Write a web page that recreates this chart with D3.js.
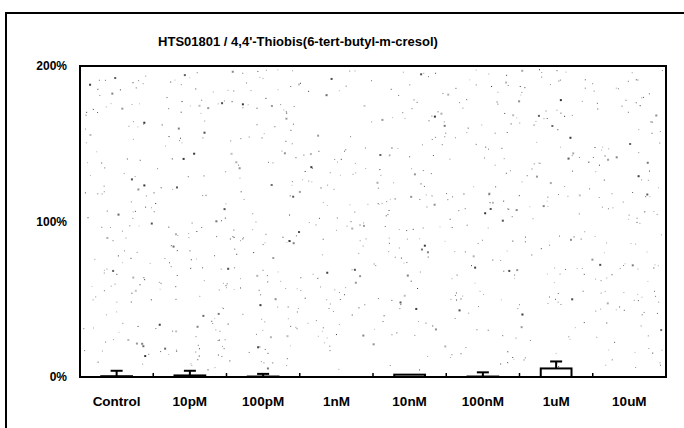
<!DOCTYPE html>
<meta charset="utf-8">
<style>
body { margin: 0; background: #fff; }
text { font-family: "Liberation Sans", Arial, sans-serif; fill: #000; }
</style>
<svg></svg>
<script src="https://d3js.org/d3.v7.min.js"></script>
<script>
var width = 684,
    height = 428;

var title = "HTS01801 / 4,4'-Thiobis(6-tert-butyl-m-cresol)";
var doses = ["Control", "10pM", "100pM", "1nM", "10nM", "100nM", "1uM", "10uM"];
var means = [0.5, 1, 0.3, 0, 1.5, 0.3, 5.5, 0];
var errors = [3.5, 3, 1.7, 0, 0, 2.7, 4.5, 0];
var yTicks = [0, 100, 200];

var margin = {top: 66, right: 18, bottom: 51, left: 80};

var svg = d3.select("svg")
    .attr("width", width)
    .attr("height", height);

var x = d3.scaleBand()
    .domain(doses)
    .range([margin.left, width - margin.right]);

var y = d3.scaleLinear()
    .domain([0, 200])
    .range([height - margin.bottom, margin.top]);

// outer frame (right and bottom run off the page)
svg.append("path")
    .attr("d", "M6," + (height + 2) + "V13H" + (width + 2))
    .attr("fill", "none")
    .attr("stroke", "#000")
    .attr("stroke-width", 2);

svg.append("text")
    .attr("x", 298)
    .attr("y", 46)
    .attr("text-anchor", "middle")
    .style("font-size", "13px")
    .style("font-weight", "bold")
    .text(title);

// speckled fill of the plot area, just texture
var rnd = d3.randomLcg(0.42);
var speck = svg.append("g").attr("fill", "#333");
for (var i = 0; i < 900; i++) {
  var s = rnd() < 0.15 ? 2 : 1;
  speck.append("rect")
      .attr("x", margin.left + 3 + rnd() * (width - margin.right - margin.left - 6))
      .attr("y", margin.top + 3 + rnd() * (height - margin.bottom - margin.top - 10))
      .attr("width", s)
      .attr("height", s)
      .attr("opacity", 0.3 + rnd() * 0.7);
}

// y labels
svg.append("g")
  .selectAll("text")
  .data(yTicks)
  .join("text")
    .attr("x", margin.left - 13)
    .attr("y", function(d) { return y(d) + 4; })
    .attr("text-anchor", "end")
    .style("font-size", "12px")
    .style("font-weight", "bold")
    .text(function(d) { return d + "%"; });

// x labels
svg.append("g")
  .selectAll("text")
  .data(doses)
  .join("text")
    .attr("x", function(d) { return x(d) + x.bandwidth() / 2; })
    .attr("y", 406)
    .attr("text-anchor", "middle")
    .style("font-size", "13.5px")
    .style("font-weight", "bold")
    .text(function(d) { return d; });

// small ticks between categories
svg.append("g")
  .selectAll("line")
  .data(doses.slice(1))
  .join("line")
    .attr("x1", function(d) { return x(d); })
    .attr("x2", function(d) { return x(d); })
    .attr("y1", y(0))
    .attr("y2", y(0) - 4)
    .attr("stroke", "#000")
    .attr("stroke-width", 1.5);

var bw = x.bandwidth() * 0.42;
var rows = doses.map(function(d, i) { return {dose: d, m: means[i], e: errors[i]}; });

var bars = svg.append("g");

bars.selectAll("line.err")
  .data(rows.filter(function(d) { return d.e > 0; }))
  .join("line")
    .attr("class", "err")
    .attr("x1", function(d) { return x(d.dose) + x.bandwidth() / 2; })
    .attr("x2", function(d) { return x(d.dose) + x.bandwidth() / 2; })
    .attr("y1", function(d) { return y(d.m); })
    .attr("y2", function(d) { return y(d.m + d.e); })
    .attr("stroke", "#000")
    .attr("stroke-width", 2);

bars.selectAll("line.cap")
  .data(rows.filter(function(d) { return d.e > 0; }))
  .join("line")
    .attr("class", "cap")
    .attr("x1", function(d) { return x(d.dose) + x.bandwidth() / 2 - 6; })
    .attr("x2", function(d) { return x(d.dose) + x.bandwidth() / 2 + 6; })
    .attr("y1", function(d) { return y(d.m + d.e); })
    .attr("y2", function(d) { return y(d.m + d.e); })
    .attr("stroke", "#000")
    .attr("stroke-width", 2);

bars.selectAll("rect")
  .data(rows.filter(function(d) { return d.m > 0; }))
  .join("rect")
    .attr("x", function(d) { return x(d.dose) + (x.bandwidth() - bw) / 2; })
    .attr("y", function(d) { return y(d.m); })
    .attr("width", bw)
    .attr("height", function(d) { return y(0) - y(d.m); })
    .attr("fill", "#fff")
    .attr("stroke", "#000")
    .attr("stroke-width", 2);

// plot frame
svg.append("rect")
    .attr("x", margin.left)
    .attr("y", margin.top)
    .attr("width", width - margin.right - margin.left)
    .attr("height", height - margin.bottom - margin.top)
    .attr("fill", "none")
    .attr("stroke", "#000")
    .attr("stroke-width", 2);
</script>
